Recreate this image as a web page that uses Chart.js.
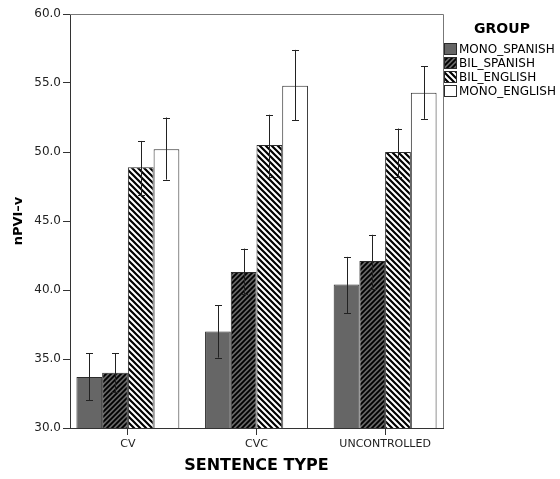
<!DOCTYPE html>
<html>
<head>
<meta charset="utf-8">
<script src="https://cdn.jsdelivr.net/npm/chart.js@4/dist/chart.umd.min.js"></script>
<style>
  html, body { margin: 0; padding: 0; background: #fff; }
  #wrap { width: 560px; height: 479px; position: relative; }
</style>
</head>
<body>
<div id="wrap"><canvas id="chart"></canvas></div>
<script>
(function () {
    const categories = ['CV', 'CVC', 'UNCONTROLLED'];
    const groupNames = ['MONO_SPANISH', 'BIL_SPANISH', 'BIL_ENGLISH', 'MONO_ENGLISH'];

    const monoSpanish = [33.7, 37.0, 40.4];
    const bilSpanish = [34.0, 41.3, 42.1];
    const bilEnglish = [48.9, 50.5, 50.0];
    const monoEnglish = [50.2, 54.8, 54.3];

    // 95% CI bounds (low / high)
    const monoSpanishLow = [32.0, 35.1, 38.3];
    const monoSpanishHigh = [35.4, 38.9, 42.4];
    const bilSpanishLow = [32.6, 39.7, 40.1];
    const bilSpanishHigh = [35.4, 43.0, 44.0];
    const bilEnglishLow = [46.9, 48.2, 48.2];
    const bilEnglishHigh = [50.8, 52.7, 51.7];
    const monoEnglishLow = [48.0, 52.3, 52.4];
    const monoEnglishHigh = [52.5, 57.4, 56.2];

    const yTicks = [30, 35, 40, 45, 50, 55, 60];

    const FONT = "'DejaVu Sans', sans-serif";
    const edge = '#2b2b2b';

    function makePattern(bg, dir, size, lw) {
        const c = document.createElement('canvas');
        c.width = size; c.height = size;
        const g = c.getContext('2d');
        g.fillStyle = bg;
        g.fillRect(0, 0, size, size);
        g.strokeStyle = '#000';
        g.lineWidth = lw;
        g.beginPath();
        if (dir === '/') {
            g.moveTo(-1, size + 1); g.lineTo(size + 1, -1);
            g.moveTo(-1, 1); g.lineTo(1, -1);
            g.moveTo(size - 1, size + 1); g.lineTo(size + 1, size - 1);
        } else {
            g.moveTo(-1, -1); g.lineTo(size + 1, size + 1);
            g.moveTo(size - 1, -1); g.lineTo(size + 1, 1);
            g.moveTo(-1, size - 1); g.lineTo(1, size + 1);
        }
        g.stroke();
        return g.createPattern(c, 'repeat');
    }

    const fills = [
        '#666666',
        makePattern('#666666', '/', 5, 1.8),
        makePattern('#ffffff', '\\', 6, 2.2),
        '#ffffff'
    ];

    const values = [monoSpanish, bilSpanish, bilEnglish, monoEnglish];
    const lows = [monoSpanishLow, bilSpanishLow, bilEnglishLow, monoEnglishLow];
    const highs = [monoSpanishHigh, bilSpanishHigh, bilEnglishHigh, monoEnglishHigh];

    const datasets = groupNames.map(function (name, i) {
        return {
            label: name,
            data: values[i].map(function (v, j) { return { x: j, y: v }; }),
            backgroundColor: fills[i],
            borderColor: edge,
            borderWidth: 1,
            borderSkipped: 'bottom',
            categoryPercentage: 0.8,
            barPercentage: 1.0,
            errLow: lows[i],
            errHigh: highs[i]
        };
    });

    const errorBars = {
        id: 'errorBars',
        afterDatasetsDraw(chart) {
            const ctx = chart.ctx;
            const y = chart.scales.y;
            ctx.save();
            ctx.strokeStyle = '#222';
            ctx.lineWidth = 1;
            chart.data.datasets.forEach(function (ds, di) {
                const meta = chart.getDatasetMeta(di);
                meta.data.forEach(function (bar, j) {
                    const x = Math.round(bar.x) + 0.5;
                    const yl = y.getPixelForValue(ds.errLow[j]);
                    const yh = y.getPixelForValue(ds.errHigh[j]);
                    ctx.beginPath();
                    ctx.moveTo(x, yl); ctx.lineTo(x, yh);
                    ctx.moveTo(x - 3.5, Math.round(yl) + 0.5); ctx.lineTo(x + 3.5, Math.round(yl) + 0.5);
                    ctx.moveTo(x - 3.5, Math.round(yh) + 0.5); ctx.lineTo(x + 3.5, Math.round(yh) + 0.5);
                    ctx.stroke();
                });
            });
            ctx.restore();
        }
    };

    const frameAndLegend = {
        id: 'frameAndLegend',
        afterDraw(chart) {
            const ctx = chart.ctx;
            const a = chart.chartArea;
            ctx.save();
            // top and right frame
            ctx.strokeStyle = '#777';
            ctx.lineWidth = 1;
            ctx.beginPath();
            ctx.moveTo(Math.round(a.left), Math.round(a.top) + 0.5);
            ctx.lineTo(Math.round(a.right) + 0.5, Math.round(a.top) + 0.5);
            ctx.lineTo(Math.round(a.right) + 0.5, Math.round(a.bottom));
            ctx.stroke();

            // legend
            ctx.fillStyle = '#000';
            ctx.font = 'bold 14px ' + FONT;
            ctx.textAlign = 'center';
            ctx.textBaseline = 'middle';
            ctx.fillText('GROUP', 502, 29);
            ctx.font = '12px ' + FONT;
            ctx.textAlign = 'left';
            chart.data.datasets.forEach(function (ds, i) {
                const yy = 49 + i * 14;
                ctx.fillStyle = ds.backgroundColor;
                ctx.fillRect(444, yy - 6, 12, 11);
                ctx.strokeStyle = edge;
                ctx.strokeRect(444.5, yy - 5.5, 12, 11);
                ctx.fillStyle = '#000';
                ctx.fillText(ds.label, 459, yy + 0.5);
            });
            ctx.restore();
        }
    };

    new Chart(document.getElementById('chart'), {
        type: 'bar',
        data: { datasets: datasets },
        plugins: [errorBars, frameAndLegend],
        options: {
            responsive: true,
            maintainAspectRatio: false,
            animation: false,
            layout: { padding: { top: 14, right: 117, left: 0, bottom: 0 } },
            plugins: {
                legend: { display: false },
                tooltip: { enabled: false }
            },
            scales: {
                x: {
                    type: 'linear',
                    min: -0.45,
                    max: 2.45,
                    offset: false,
                    afterBuildTicks: function (scale) {
                        scale.ticks = categories.map(function (c, i) { return { value: i }; });
                    },
                    afterFit: function (scale) { scale.height = 51; },
                    ticks: {
                        callback: function (v) { return categories[v]; },
                        font: { family: FONT, size: 11 },
                        color: '#222',
                        padding: 3,
                        maxRotation: 0,
                        autoSkip: false
                    },
                    grid: { display: true, offset: false, drawOnChartArea: false, drawTicks: true, tickLength: 7, color: '#333' },
                    border: { display: true, color: '#333' },
                    title: {
                        display: true,
                        text: 'SENTENCE TYPE',
                        font: { family: FONT, size: 16, weight: 'bold' },
                        color: '#000',
                        padding: { top: 0, bottom: 4 }
                    }
                },
                y: {
                    min: 30,
                    max: 60,
                    afterBuildTicks: function (scale) {
                        scale.ticks = yTicks.map(function (v) { return { value: v }; });
                    },
                    afterFit: function (scale) { scale.width = 70; },
                    ticks: {
                        callback: function (v) { return v.toFixed(1); },
                        font: { family: FONT, size: 12 },
                        color: '#222',
                        padding: 2
                    },
                    grid: { display: true, drawOnChartArea: false, drawTicks: true, tickLength: 7, color: '#333' },
                    border: { display: true, color: '#333' },
                    title: {
                        display: true,
                        text: 'nPVI–v',
                        font: { family: FONT, size: 13, weight: 'bold' },
                        color: '#000',
                        padding: { top: 11, bottom: 0 }
                    }
                }
            }
        }
    });
})();
</script>
</body>
</html>
